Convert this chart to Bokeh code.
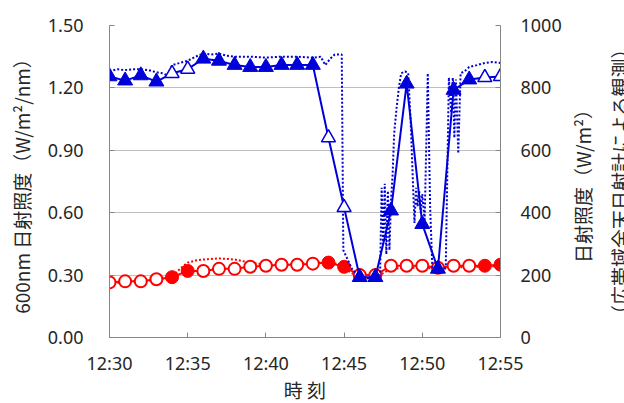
import math
from bokeh.plotting import figure
from bokeh.layouts import row
from bokeh.models import Range1d, LinearAxis, FixedTicker, NumeralTickFormatter
from bokeh.embed import file_html
from bokeh.resources import INLINE

# ---- data ----
minutes = list(range(30, 56))            # 12:30 ... 12:55 (minutes after 12:00)
x_ticks = [30, 35, 40, 45, 50, 55]
x_tick_labels = ["12:30", "12:35", "12:40", "12:45", "12:50", "12:55"]
left_ticks = [0.0, 0.3, 0.6, 0.9, 1.2, 1.5]
right_ticks = [0, 200, 400, 600, 800, 1000]
highlight_minutes = [34, 35, 44, 45, 54, 55]
right_title_lines = ["日射照度（W/m²）", "（広帯域全天日射計による観測）"]

blue_600 = [1.255, 1.235, 1.26, 1.23, 1.27, 1.29, 1.34, 1.33, 1.31, 1.30, 1.30, 1.31, 1.31,
            1.31, 0.96, 0.625, 0.29, 0.29, 0.61, 1.22, 0.545, 0.33, 1.19, 1.24, 1.25, 1.255]
red_600 = [0.265, 0.27, 0.27, 0.28, 0.29, 0.32, 0.32, 0.33, 0.33, 0.34, 0.345, 0.35, 0.35,
           0.355, 0.36, 0.34, 0.30, 0.30, 0.345, 0.345, 0.345, 0.335, 0.345, 0.345, 0.345, 0.35]

bb_time = [30.0, 30.5, 31.0, 31.5, 32.0, 32.5, 33.0, 33.4, 33.7, 34.0,
           34.5, 35.0, 35.5, 36.0, 36.5, 37.0, 37.5, 38.0, 39.0, 40.0,
           41.0, 42.0, 43.0, 43.5, 43.8, 44.1, 44.4, 44.85, 44.95, 45.5,
           46.0, 46.5, 47.0, 47.3, 47.4, 47.5, 47.6, 47.7, 47.8, 47.9,
           48.0, 48.1, 48.2, 48.35, 48.5, 48.65, 48.9, 49.1, 49.25, 49.4,
           49.5, 49.6, 49.7, 49.8, 49.9, 50.0, 50.15, 50.35, 50.5, 50.65,
           51.0, 51.3, 51.5, 51.7, 51.85, 51.95, 52.05, 52.15, 52.3, 52.45,
           52.7, 53.0, 53.5, 54.0, 54.5, 55.0]
bb_value = [853, 860, 857, 860, 860, 857, 850, 847, 840, 873,
            880, 887, 900, 910, 907, 910, 903, 900, 900, 897,
            900, 900, 897, 900, 873, 893, 907, 907, 280, 220,
            193, 190, 193, 200, 480, 300, 493, 267, 470, 280,
            440, 520, 653, 733, 800, 847, 853, 847, 700, 500,
            367, 480, 420, 470, 400, 460, 373, 847, 420, 213,
            207, 207, 227, 833, 720, 833, 640, 827, 590, 847,
            853, 867, 873, 880, 883, 880]

rd_time = [30, 31, 32, 33, 34, 34.5, 35, 35.5, 36, 37,
           38, 39, 40, 41, 42, 43, 44, 44.5, 45, 45.5,
           46, 46.5, 47, 47.5, 48, 49, 50, 51, 52, 53, 54, 55]
rd_value = [0.26, 0.265, 0.27, 0.275, 0.29, 0.33, 0.36, 0.37, 0.375, 0.38,
            0.375, 0.36, 0.35, 0.35, 0.355, 0.36, 0.36, 0.355, 0.33, 0.31,
            0.29, 0.285, 0.29, 0.31, 0.33, 0.335, 0.335, 0.33, 0.335, 0.34, 0.34, 0.345]

# ---- styles ----
BLUE = "#0000d8"
RED = "#ff0000"
AX = "#868686"
TXT = "#262626"
NUMFONT = "Noto Sans"
JPFONT = "Noto Sans CJK JP"

# ---- main figure ----
p = figure(width=565, height=403, frame_width=391, frame_height=312,
           min_border_left=109, min_border_right=65, min_border_top=25, min_border_bottom=66,
           x_range=Range1d(30, 55), y_range=Range1d(0, 1.5),
           output_backend="svg", toolbar_location=None, x_axis_label="時 刻",
           y_axis_label="600nm 日射照度（W/m²/nm）")
p.extra_y_ranges = {"bb": Range1d(0, 1000)}
p.outline_line_color = None
p.background_fill_color = "white"
p.border_fill_color = "white"

p.xgrid.grid_line_color = None
p.ygrid.grid_line_color = "#bfbfbf"
p.ygrid.grid_line_width = 1
p.ygrid.ticker = FixedTicker(ticks=left_ticks)

p.xaxis.ticker = FixedTicker(ticks=x_ticks)
p.xaxis.major_label_overrides = {t: l for t, l in zip(x_ticks, x_tick_labels)}
p.xaxis.major_label_standoff = 13
p.xaxis.axis_label_standoff = -2

p.yaxis.ticker = FixedTicker(ticks=left_ticks)
p.yaxis.formatter = NumeralTickFormatter(format="0.00")
p.yaxis.major_label_standoff = 26
p.yaxis.axis_label_standoff = 10

right = LinearAxis(y_range_name="bb", ticker=FixedTicker(ticks=right_ticks))
right.major_label_standoff = 20
p.add_layout(right, "right")

for ax in [p.xaxis[0], p.yaxis[0], right]:
    ax.axis_line_color = AX
    ax.major_tick_line_color = AX
    ax.major_tick_in = 5
    ax.major_tick_out = 0
    ax.minor_tick_line_color = None
    ax.major_label_text_font = NUMFONT
    ax.major_label_text_font_size = "18px"
    ax.major_label_text_color = TXT
    ax.axis_label_text_font = JPFONT
    ax.axis_label_text_font_size = "19px"
    ax.axis_label_text_font_style = "normal"
    ax.axis_label_text_color = TXT

# red dotted (high-resolution 600nm)
p.line(rd_time, rd_value, line_color=RED, line_width=2, line_dash="2 2")
# red measured line + circles
p.line(minutes, red_600, line_color=RED, line_width=2)
r_open_x = [m for m in minutes if m not in highlight_minutes]
r_open_y = [v for m, v in zip(minutes, red_600) if m not in highlight_minutes]
r_fill_x = [m for m in minutes if m in highlight_minutes]
r_fill_y = [v for m, v in zip(minutes, red_600) if m in highlight_minutes]
p.scatter(r_open_x, r_open_y, marker="circle", size=12, line_color=RED, line_width=2,
          fill_color="white")
p.scatter(r_fill_x, r_fill_y, marker="circle", size=13, line_color=RED, line_width=1,
          fill_color=RED)

# blue dotted (broadband, right axis)
p.line(bb_time, bb_value, y_range_name="bb", line_color=BLUE, line_width=2, line_dash="2 2")
# blue measured line + triangles
p.line(minutes, blue_600, line_color=BLUE, line_width=2)
b_fill_x = [m for m in minutes if m not in highlight_minutes]
b_fill_y = [v for m, v in zip(minutes, blue_600) if m not in highlight_minutes]
b_open_x = [m for m in minutes if m in highlight_minutes]
b_open_y = [v for m, v in zip(minutes, blue_600) if m in highlight_minutes]
p.scatter(b_fill_x, b_fill_y, marker="triangle", size=15, line_color=BLUE, line_width=1,
          fill_color=BLUE)
p.scatter(b_open_x, b_open_y, marker="triangle", size=14, line_color=BLUE, line_width=1.5,
          fill_color="white")

# ---- narrow companion figure carrying the right-hand two-line title ----
p2 = figure(width=59, height=403, frame_width=1, frame_height=312,
            min_border_left=0, min_border_right=0, min_border_top=25, min_border_bottom=66,
            x_range=Range1d(0, 1), y_range=Range1d(0, 1),
            x_axis_location=None, y_axis_location=None,
            output_backend="svg", toolbar_location=None)
p2.outline_line_color = None
p2.grid.visible = False
p2.background_fill_color = "white"
p2.border_fill_color = "white"
# closest to the frame first: second line, then first line further left
for line_text, standoff in zip(reversed(right_title_lines), [0, 7]):
    ta = LinearAxis(ticker=FixedTicker(ticks=[]), axis_label=line_text)
    ta.axis_line_color = None
    ta.major_tick_line_color = None
    ta.minor_tick_line_color = None
    ta.major_tick_in = 0
    ta.major_tick_out = 0
    ta.major_label_standoff = 0
    ta.axis_label_standoff = standoff
    ta.axis_label_text_font = JPFONT
    ta.axis_label_text_font_size = "19px"
    ta.axis_label_text_font_style = "normal"
    ta.axis_label_text_color = TXT
    p2.add_layout(ta, "left")

layout = row(p, p2, spacing=0)
open("out.html", "w").write(file_html(layout, INLINE))
